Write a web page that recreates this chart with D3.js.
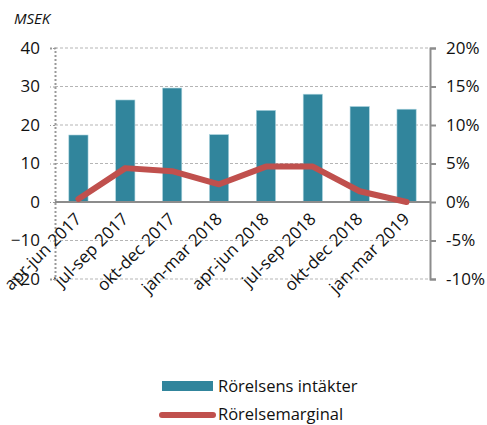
<!DOCTYPE html>
<html lang="sv">
<head>
<meta charset="UTF-8">
<title>Rörelsens intäkter</title>
<script src="https://cdn.jsdelivr.net/npm/d3@7"></script>
<style>
  body { margin: 0; background: #fff; }
  svg text { font-family: "Open Sans", sans-serif; fill: #111; }
  .tick text { font-size: 17px; }
</style>
</head>
<body>
<script>
// data
var categories = ["apr-jun 2017", "jul-sep 2017", "okt-dec 2017", "jan-mar 2018",
                  "apr-jun 2018", "jul-sep 2018", "okt-dec 2018", "jan-mar 2019"];
var intakter = [17.4, 26.5, 29.6, 17.5, 23.8, 28.0, 24.8, 24.1];   // MSEK
var marginal = [0.4, 4.4, 4.0, 2.3, 4.6, 4.6, 1.4, 0.0];           // procent
var leftTicks = [-20, -10, 0, 10, 20, 30, 40];
var rightTicks = [-10, -5, 0, 5, 10, 15, 20];

var width = 487, height = 425;
var m = {left: 55, right: 57, top: 48, bottom: 146};

var svg = d3.select("body").append("svg")
    .attr("width", width).attr("height", height);

var x = d3.scaleBand().domain(categories).range([m.left, width - m.right]);
var y = d3.scaleLinear().domain([-20, 40]).range([height - m.bottom, m.top]);
var y2 = d3.scaleLinear().domain([-10, 20]).range([height - m.bottom, m.top]);

// stödlinjer
svg.append("g").selectAll("line")
    .data(leftTicks.filter(function(d){ return d !== 0; }))
    .enter().append("line")
    .attr("x1", m.left).attr("x2", width - m.right)
    .attr("y1", function(d){ return y(d); }).attr("y2", function(d){ return y(d); })
    .attr("stroke", "#b5b5b5").attr("stroke-width", 1)
    .attr("stroke-dasharray", "3,2");

// vänster axel (prickad)
var yAxis = d3.axisLeft(y).tickValues(leftTicks).tickSize(5).tickPadding(10);
var gl = svg.append("g").attr("transform", "translate(" + m.left + ",0)").call(yAxis);
gl.select(".domain").attr("stroke", "#999").attr("stroke-width", 2).attr("stroke-dasharray", "2,2");
gl.selectAll(".tick line").attr("stroke", "#999").attr("stroke-dasharray", "2,2");

// höger axel
var yAxis2 = d3.axisRight(y2).tickValues(rightTicks).tickSize(6).tickPadding(10)
    .tickFormat(function(d){ return d + "%"; });
var gr = svg.append("g").attr("transform", "translate(" + (width - m.right) + ",0)").call(yAxis2);
gr.select(".domain").attr("stroke", "#8c8c8c").attr("stroke-width", 2);
gr.selectAll(".tick line").attr("stroke", "#8c8c8c").attr("stroke-width", 2);

// staplar
var bw = x.bandwidth() * 0.41;
svg.append("g").selectAll("rect")
    .data(intakter)
    .enter().append("rect")
    .attr("x", function(d, i){ return x(categories[i]) + x.bandwidth() / 2 - bw / 2; })
    .attr("y", function(d){ return y(d); })
    .attr("width", bw)
    .attr("height", function(d){ return y(0) - y(d); })
    .attr("fill", "#31859c")
    .attr("stroke", "#a9d3de").attr("stroke-width", 0.6);

// nollinje
svg.append("line")
    .attr("x1", m.left).attr("x2", width - m.right)
    .attr("y1", y(0)).attr("y2", y(0))
    .attr("stroke", "#8c8c8c").attr("stroke-width", 2);

// linje
var line = d3.line()
    .x(function(d, i){ return x(categories[i]) + x.bandwidth() / 2; })
    .y(function(d){ return y2(d); });
svg.append("path")
    .datum(marginal)
    .attr("d", line)
    .attr("fill", "none")
    .attr("stroke", "#c0504d").attr("stroke-width", 6)
    .attr("stroke-linejoin", "round").attr("stroke-linecap", "round");

// kategorietiketter
svg.append("g").selectAll("text")
    .data(categories)
    .enter().append("text")
    .attr("transform", function(d){
        return "translate(" + (x(d) + x.bandwidth() / 2 + 4) + "," + (y(0) + 18) + ") rotate(-45)";
    })
    .attr("text-anchor", "end")
    .style("font-size", "17px")
    .text(function(d){ return d; });

// enhet
svg.append("text")
    .attr("x", 14).attr("y", 24)
    .style("font-size", "15px").style("font-style", "italic")
    .text("MSEK");

// förklaring
var lg = svg.append("g");
lg.append("rect").attr("x", 162).attr("y", 381).attr("width", 51).attr("height", 10)
    .attr("fill", "#31859c");
lg.append("text").attr("x", 218).attr("y", 392).style("font-size", "16.5px").text("Rörelsens intäkter");
lg.append("line").attr("x1", 162).attr("x2", 213).attr("y1", 415).attr("y2", 415)
    .attr("stroke", "#c0504d").attr("stroke-width", 6).attr("stroke-linecap", "round");
lg.append("text").attr("x", 218).attr("y", 420).style("font-size", "16.5px").text("Rörelsemarginal");
</script>
</body>
</html>
